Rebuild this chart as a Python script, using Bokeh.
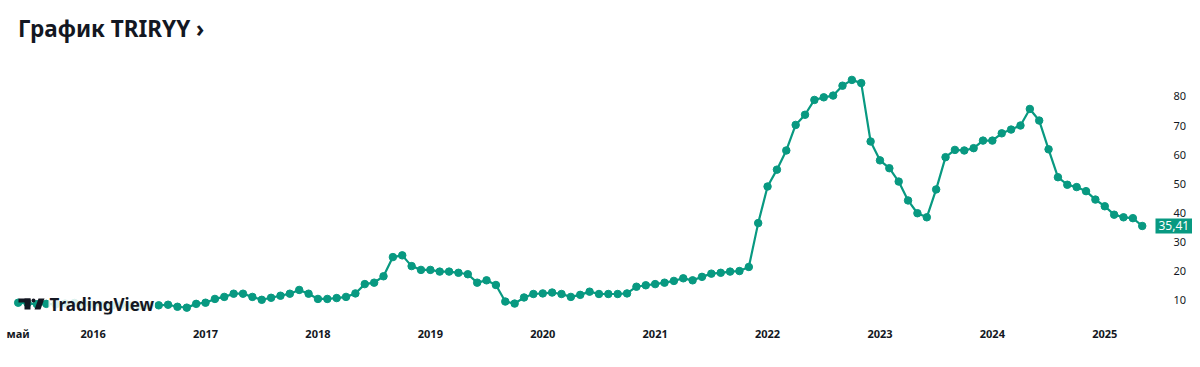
import pandas as pd
from bokeh.plotting import figure
from bokeh.models import (FixedTicker, Label, Range1d, Div, ColumnDataSource, BoxAnnotation,
                          PolyAnnotation, LinearAxis)
from bokeh.layouts import column
from bokeh.embed import file_html
from bokeh.resources import INLINE

# ---------------- data ----------------
start_month = "2015-05-01"
end_month = "2025-05-01"
prices = [
    9.0, 8.8, 8.5, 8.6, 8.4, 8.7, 8.9, 8.6, 8.3, 8.1, 8.0, 8.2, 8.0, 7.8, 7.9, 8.1,
    8.3, 7.6, 7.3, 8.6, 9.0, 10.3, 11.0, 12.1, 12.1, 11.0, 10.0, 10.7, 11.4, 12.1, 13.4, 12.1, 10.3, 10.3,
    10.6, 11.0, 12.2, 15.4, 15.9, 18.1, 24.7, 25.3, 21.6, 20.3, 20.3, 19.7, 19.7, 19.3, 18.8, 15.9,
    16.7, 15.1, 9.4, 8.7, 10.8, 12.0, 12.2, 12.5, 12.0, 11.0, 11.7,
    12.8, 12.0, 12.0, 12.0, 12.2, 14.5, 15.0, 15.4, 15.9, 16.5, 17.4, 16.7, 17.9, 19.0, 19.3, 19.7, 19.9, 21.3,
    36.4, 49.0, 54.8, 61.4, 70.2, 73.7, 78.8, 79.7, 80.3, 83.7, 85.7, 84.6, 64.5, 58.0, 55.3, 50.7,
    44.2, 39.8, 38.4, 48.0, 59.1, 61.6, 61.4, 62.2, 64.8, 64.8, 67.3, 68.6, 70.0, 75.7, 71.7, 61.8,
    52.2, 49.6, 48.8, 47.4, 44.5, 42.2, 39.3, 38.4, 38.1, 35.41,
]
x_tick_dates = ["2015-05-01", "2016-01-01", "2017-01-01", "2018-01-01", "2019-01-01", "2020-01-01",
                "2021-01-01", "2022-01-01", "2023-01-01", "2024-01-01", "2025-01-01"]
x_tick_labels = ["май", "2016", "2017", "2018", "2019", "2020", "2021", "2022", "2023", "2024", "2025"]
y_ticks = [10, 20, 30, 40, 50, 60, 70, 80]

months = pd.date_range(start_month, end_month, freq="MS")
t0 = pd.Timestamp(start_month)


def month_index(d):
    d = pd.Timestamp(d)
    return (d.year - t0.year) * 12 + (d.month - t0.month)


xs = [month_index(d) for d in months]
src = ColumnDataSource(dict(x=xs, y=prices))

TEAL = "#089981"
TXT = "#131722"
FONT = "Noto Sans"

# page-pixel <-> data helpers (layout only)
PX_PER_MONTH = 9.367
PX_M0 = 17.7
PX_PER_UNIT = 2.905
PY_AT_10 = 299.3
FR_L, FR_R, FR_T, FR_B = 8, 1192, 60, 314


def px2x(px):
    return (px - PX_M0) / PX_PER_MONTH


def px2y(py):
    return 10 + (PY_AT_10 - py) / PX_PER_UNIT


X0, X1 = px2x(FR_L), px2x(FR_R)
Y_BOTTOM, Y_TOP = px2y(FR_B), px2y(FR_T)
TITLE_H = 52
FIG_H = 306

p = figure(width=1192, height=FIG_H, output_backend="svg", toolbar_location=None,
           x_range=Range1d(X0, X1), y_range=Range1d(Y_BOTTOM, Y_TOP), y_axis_location=None,
           min_border_left=FR_L, min_border_right=0, min_border_top=FR_T - TITLE_H,
           min_border_bottom=FIG_H - (FR_B - TITLE_H))
p.outline_line_color = None
p.grid.visible = False
p.background_fill_color = "white"

p.line("x", "y", source=src, line_color=TEAL, line_width=2.2)
p.scatter("x", "y", source=src, size=7.5, fill_color=TEAL, line_color=TEAL)

# x axis
xt = [month_index(d) for d in x_tick_dates]
p.xaxis.ticker = FixedTicker(ticks=xt)
p.xaxis.major_label_overrides = {t: lab for t, lab in zip(xt, x_tick_labels)}
p.xaxis.axis_line_color = None
p.xaxis.major_tick_line_color = None
p.xaxis.minor_tick_line_color = None
p.xaxis.major_label_standoff = 5
p.xaxis.major_label_text_font = FONT
p.xaxis.major_label_text_font_size = "11px"
p.xaxis.major_label_text_font_style = "bold"
p.xaxis.major_label_text_color = TXT

# y axis (price scale) at fixed location inside the frame
yax = LinearAxis(fixed_location=px2x(1155), ticker=FixedTicker(ticks=y_ticks),
                 axis_line_color=None, major_tick_line_color=None, minor_tick_line_color=None,
                 major_label_standoff=12, major_label_text_font=FONT,
                 major_label_text_font_size="11px", major_label_text_color=TXT)
p.add_layout(yax, "right")

# last price tag
last = prices[-1]
p.add_layout(Label(x=px2x(1155), y=last, text=f"{last:.2f}".replace(".", ","), text_align="left",
                   text_baseline="middle", text_color="white", text_font=FONT,
                   text_font_size="12px", background_fill_color=TEAL, padding=3))

# TradingView watermark
p.add_layout(Label(x=px2x(48), y=px2y(304), text="TradingView", text_align="left",
                   text_baseline="middle", text_color=TXT, text_font=FONT,
                   text_font_size="17px", text_font_style="bold",
                   background_fill_color="white", background_fill_alpha=0.85, padding=1))
p.add_layout(BoxAnnotation(left=px2x(18), right=px2x(30), top=px2y(298), bottom=px2y(302),
                           fill_color=TXT, fill_alpha=1, line_color=None))
p.add_layout(BoxAnnotation(left=px2x(24), right=px2x(30), top=px2y(298), bottom=px2y(309),
                           fill_color=TXT, fill_alpha=1, line_color=None))
p.add_layout(BoxAnnotation(left=px2x(31), right=px2x(35), top=px2y(298), bottom=px2y(302),
                           fill_color=TXT, fill_alpha=1, line_color=None, border_radius=2))
p.add_layout(PolyAnnotation(xs=[px2x(38), px2x(44), px2x(40), px2x(34)],
                            ys=[px2y(298), px2y(298), px2y(309), px2y(309)],
                            fill_color=TXT, fill_alpha=1, line_color=None))

title = Div(text="График TRIRYY ›", width=1192, height=TITLE_H, margin=(0, 0, 0, 0),
            styles={"font-family": FONT, "font-size": "22.5px", "font-weight": "bold",
                    "color": TXT, "padding-left": "18px", "padding-top": "13px",
                    "line-height": "normal"})

layout = column(title, p, spacing=0)
open("out.html", "w").write(file_html(layout, INLINE))
